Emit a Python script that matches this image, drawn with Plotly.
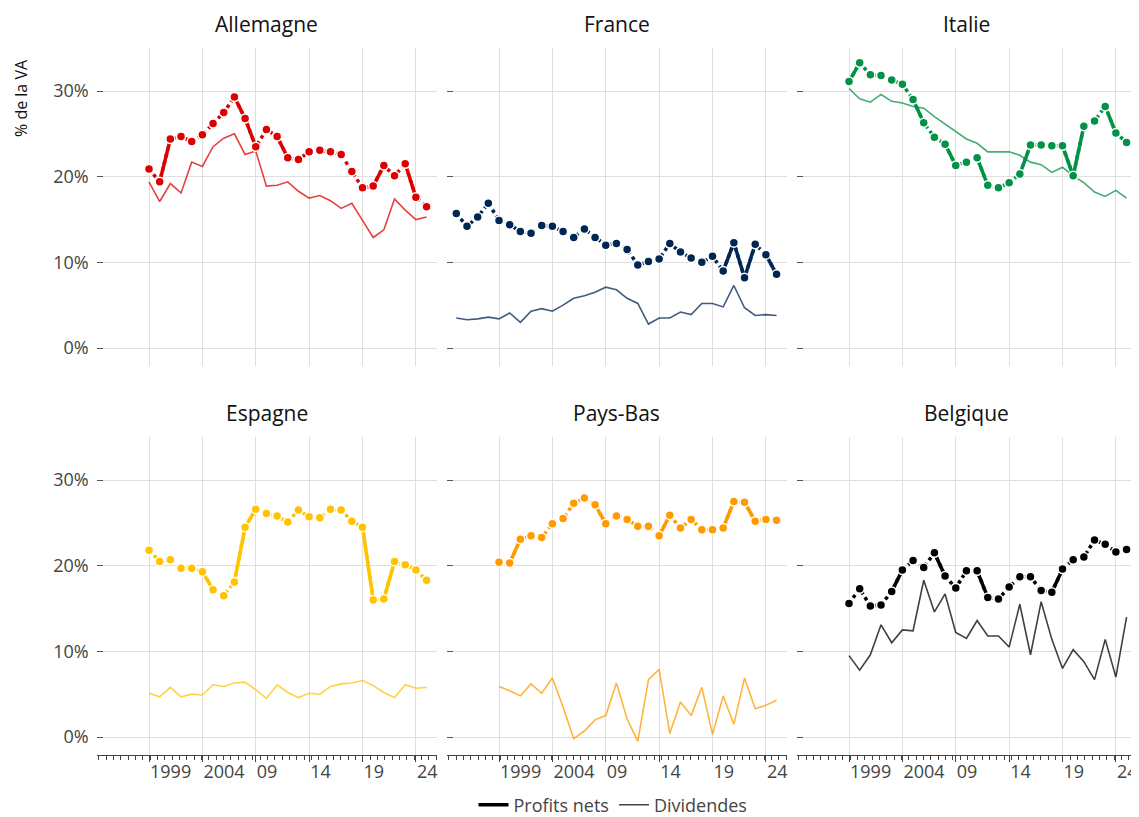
import plotly.graph_objects as go

# ---------------- data ----------------
countries = ["Allemagne", "France", "Italie", "Espagne", "Pays-Bas", "Belgique"]

years_de = list(range(1999, 2026))
years_fr = list(range(1995, 2026))
years_it = list(range(1999, 2026))
years_es = list(range(1999, 2026))
years_nl = list(range(1999, 2026))
years_be = list(range(1999, 2026))

profits_de = [20.9, 19.4, 24.4, 24.7, 24.1, 24.9, 26.2, 27.5, 29.3, 26.8, 23.5, 25.5, 24.7, 22.2,
              22.0, 22.9, 23.1, 22.9, 22.6, 20.6, 18.7, 18.9, 21.3, 20.1, 21.5, 17.6, 16.5]
div_de = [19.4, 17.1, 19.2, 18.1, 21.7, 21.2, 23.5, 24.5, 25.0, 22.6, 23.0, 18.9, 19.0, 19.4,
          18.3, 17.5, 17.8, 17.2, 16.3, 16.9, 14.9, 12.9, 13.8, 17.4, 16.1, 15.0, 15.3]

profits_fr = [15.7, 14.2, 15.3, 16.9, 14.9, 14.4, 13.6, 13.4, 14.3, 14.2, 13.6, 12.9, 13.9, 12.9,
              12.0, 12.2, 11.5, 9.7, 10.1, 10.4, 12.2, 11.2, 10.5, 10.0, 10.7, 9.0, 12.3, 8.2,
              12.1, 10.9, 8.6]
div_fr = [3.5, 3.3, 3.4, 3.6, 3.4, 4.1, 3.0, 4.3, 4.6, 4.3, 5.0, 5.8, 6.1, 6.5, 7.1, 6.8, 5.8,
          5.2, 2.8, 3.5, 3.5, 4.2, 3.9, 5.2, 5.2, 4.8, 7.3, 4.7, 3.8, 3.9, 3.8]

profits_it = [31.1, 33.3, 31.9, 31.8, 31.3, 30.8, 29.0, 26.3, 24.6, 23.8, 21.3, 21.7, 22.2, 19.0,
              18.7, 19.3, 20.3, 23.7, 23.7, 23.6, 23.6, 20.1, 25.9, 26.5, 28.2, 25.1, 24.0]
div_it = [30.3, 29.1, 28.7, 29.6, 28.8, 28.6, 28.2, 28.0, 27.0, 26.1, 25.2, 24.4, 23.9, 22.9,
          22.9, 22.9, 22.5, 21.7, 21.4, 20.5, 21.1, 20.1, 19.3, 18.2, 17.7, 18.4, 17.5]

profits_es = [21.8, 20.5, 20.7, 19.7, 19.7, 19.3, 17.2, 16.5, 18.1, 24.5, 26.6, 26.1, 25.8, 25.1,
              26.5, 25.7, 25.6, 26.6, 26.5, 25.2, 24.5, 16.0, 16.1, 20.5, 20.1, 19.5, 18.3]
div_es = [5.1, 4.7, 5.8, 4.7, 5.0, 4.9, 6.1, 5.9, 6.3, 6.4, 5.5, 4.5, 6.1, 5.2, 4.6, 5.1, 5.0,
          5.9, 6.2, 6.3, 6.6, 6.0, 5.2, 4.6, 6.1, 5.7, 5.8]

profits_nl = [20.4, 20.3, 23.1, 23.5, 23.3, 24.9, 25.5, 27.3, 27.9, 27.1, 24.9, 25.8, 25.4, 24.6,
              24.6, 23.5, 25.9, 24.4, 25.4, 24.2, 24.2, 24.4, 27.5, 27.4, 25.2, 25.4, 25.3]
div_nl = [5.9, 5.4, 4.8, 6.2, 5.1, 6.9, 3.5, -0.2, 0.7, 2.0, 2.5, 6.3, 2.1, -0.5, 6.7, 7.9, 0.4,
          4.1, 2.5, 5.8, 0.3, 4.8, 1.5, 6.9, 3.3, 3.7, 4.3]

profits_be = [15.6, 17.3, 15.3, 15.4, 17.0, 19.5, 20.6, 19.8, 21.5, 18.8, 17.4, 19.4, 19.4, 16.3,
              16.1, 17.5, 18.7, 18.7, 17.1, 16.9, 19.6, 20.7, 21.0, 23.0, 22.5, 21.6, 21.9]
div_be = [9.5, 7.8, 9.6, 13.1, 11.0, 12.5, 12.4, 18.3, 14.6, 16.7, 12.2, 11.5, 13.6, 11.8, 11.8,
          10.5, 15.5, 9.6, 15.8, 11.4, 8.0, 10.2, 8.8, 6.7, 11.4, 7.0, 14.0]

x_tickvals = [1999, 2004, 2009, 2014, 2019, 2024]
x_ticktext = ["1999", "2004", "09", "14", "19", "24"]
y_tickvals = [0, 10, 20, 30]
y_ticktext = ["0%", "10%", "20%", "30%"]

legend_names = ["Profits nets", "Dividendes"]
y_title = "% de la VA"

# ---------------- styles ----------------
colors = ["#DD0000", "#002654", "#009246", "#FFC300", "#FF9B00", "#000000"]
FONT = "Open Sans"
OFF = 8  # page body margin offset
W, H = 1139 - OFF, 817 - OFF
col_px = [(96.7, 436.7), (446.7, 786.7), (796.7, 1136.7)]
row_px = [(48.2, 366.0), (437.2, 755.0)]
XR = [1994.1, 2025.95]
YR = [-2.1, 35]


def px_x(v):
    return (v - OFF) / W


def px_y(v):
    return 1 - (v - OFF) / H


def rgba(hexc, a):
    hexc = hexc.lstrip("#")
    r, g, b = int(hexc[0:2], 16), int(hexc[2:4], 16), int(hexc[4:6], 16)
    return f"rgba({r},{g},{b},{a})"


series = [
    (years_de, profits_de, div_de),
    (years_fr, profits_fr, div_fr),
    (years_it, profits_it, div_it),
    (years_es, profits_es, div_es),
    (years_nl, profits_nl, div_nl),
    (years_be, profits_be, div_be),
]

fig = go.Figure()
layout = {}
annotations = []

for i, (name, (yrs, prof, div), col) in enumerate(zip(countries, series, colors)):
    r, c = divmod(i, 3)
    ax = "" if i == 0 else str(i + 1)
    xa, ya = "x" + ax, "y" + ax
    x0, x1 = col_px[c]
    t0, t1 = row_px[r]
    bottom = r == 1

    layout["xaxis" + ax] = dict(
        domain=[px_x(x0), px_x(x1)], range=XR, anchor=ya,
        tickvals=x_tickvals, ticktext=x_ticktext,
        showticklabels=bottom, ticks="outside" if bottom else "",
        ticklen=6, tickwidth=1, tickcolor="#444",
        ticklabelposition="outside right", ticklabeloverflow="allow",
        minor=dict(ticks="outside" if bottom else "", ticklen=4, tickcolor="#444",
                   tick0=1995.0, dtick=0.687, showgrid=False),
        showline=bottom, linecolor="#444", linewidth=1,
        showgrid=True, gridcolor="#dedede", gridwidth=1,
        zeroline=False, fixedrange=True,
        tickfont=dict(family=FONT, size=18, color="#444"),
    )
    layout["yaxis" + ax] = dict(
        domain=[px_y(t1), px_y(t0)], range=YR, anchor=xa,
        tickvals=y_tickvals, ticktext=y_ticktext,
        showticklabels=(c == 0), ticks="inside", ticklen=6.6, tickwidth=1,
        tickcolor="#555", ticklabelstandoff=7,
        showgrid=True, gridcolor="#dedede", gridwidth=1,
        zeroline=False, showline=False, fixedrange=True,
        tickfont=dict(family=FONT, size=18, color="#444"),
    )

    # dividends (thin, lighter)
    fig.add_trace(go.Scatter(x=yrs, y=div, mode="lines", xaxis=xa, yaxis=ya,
                             line=dict(color=rgba(col, 0.75), width=1.6),
                             showlegend=False, hoverinfo="skip"))
    # profits: dotted line
    fig.add_trace(go.Scatter(x=yrs, y=prof, mode="lines", xaxis=xa, yaxis=ya,
                             line=dict(color=col, width=3.5, dash="dot"),
                             showlegend=False, hoverinfo="skip"))
    # profits: steep segments appear solid
    sx, sy = [], []
    for k in range(len(prof) - 1):
        if abs(prof[k + 1] - prof[k]) > 2.05:
            sx += [yrs[k], yrs[k + 1], None]
            sy += [prof[k], prof[k + 1], None]
    fig.add_trace(go.Scatter(x=sx, y=sy, mode="lines", xaxis=xa, yaxis=ya,
                             line=dict(color=col, width=3.5),
                             showlegend=False, hoverinfo="skip"))
    # profits: markers
    fig.add_trace(go.Scatter(x=yrs, y=prof, mode="markers", xaxis=xa, yaxis=ya,
                             marker=dict(color=col, size=9, line=dict(color="white", width=1.5)),
                             showlegend=False, hoverinfo="skip"))

    # panel title
    annotations.append(dict(
        text=name, x=px_x((x0 + x1) / 2), y=px_y(24 if r == 0 else 413),
        xref="paper", yref="paper", xanchor="center", yanchor="middle",
        showarrow=False, font=dict(family=FONT, size=21, color="#111"),
    ))

# legend entries
fig.add_trace(go.Scatter(x=[None], y=[None], mode="lines", name=legend_names[0],
                         line=dict(color="#000", width=3.5)))
fig.add_trace(go.Scatter(x=[None], y=[None], mode="lines", name=legend_names[1],
                         line=dict(color="#444", width=1.6)))

annotations.append(dict(
    text=y_title, x=px_x(21), y=px_y(98), xref="paper", yref="paper",
    xanchor="center", yanchor="middle", textangle=-90, showarrow=False,
    font=dict(family=FONT, size=16, color="#111"),
))

fig.update_layout(
    width=W, height=H,
    margin=dict(l=0, r=0, t=0, b=0, autoexpand=False),
    paper_bgcolor="white", plot_bgcolor="white",
    font=dict(family=FONT, size=18, color="#444"),
    showlegend=True,
    legend=dict(orientation="h", x=px_x(613), xanchor="center", y=px_y(805),
                yanchor="middle", font=dict(family=FONT, size=18, color="#444"),
                bgcolor="rgba(0,0,0,0)", itemwidth=30, tracegroupgap=0),
    annotations=annotations,
    **layout,
)

fig.write_html("out.html")
